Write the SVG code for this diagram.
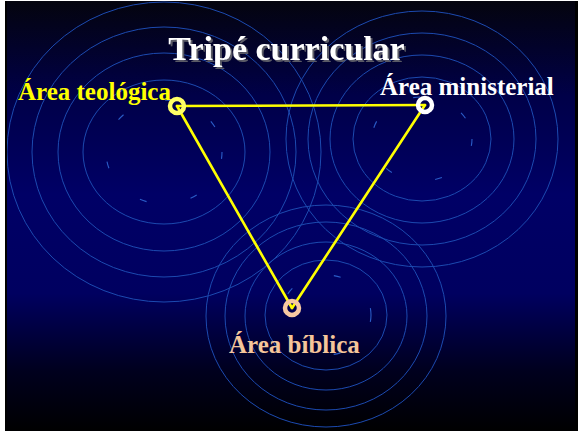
<svg xmlns="http://www.w3.org/2000/svg" width="578" height="431" viewBox="0 0 578 431">
  <defs>
    <linearGradient id="bg" x1="0" y1="0" x2="0" y2="1">
      <stop offset="0" stop-color="#04040e"/>
      <stop offset="0.22" stop-color="#000048"/>
      <stop offset="0.45" stop-color="#000066"/>
      <stop offset="0.68" stop-color="#000060"/>
      <stop offset="0.86" stop-color="#00001e"/>
      <stop offset="1" stop-color="#000000"/>
    </linearGradient>
    <clipPath id="clip"><rect x="7" y="1" width="568" height="430"/></clipPath>
    <filter id="shadow" x="-10%" y="-30%" width="120%" height="160%">
      <feFlood flood-color="#5a5a66"/>
      <feComposite in2="SourceAlpha" operator="in"/>
      <feOffset dx="2" dy="2" result="sh"/>
      <feMerge><feMergeNode in="sh"/><feMergeNode in="SourceGraphic"/></feMerge>
    </filter>
    <style>
      .ring { fill: none; stroke: #1c4ab0; stroke-width: 1; }
      .dash { fill: none; stroke: #2a5cc8; stroke-width: 1.1; stroke-dasharray: 7 45; }
      .edge { stroke: #ffff00; stroke-width: 2.6; fill: none; stroke-linecap: round; }
      .lbl { font-family: "Liberation Serif", "Times New Roman", serif; font-weight: bold; font-size: 25px; }
      .dot { stroke-width: 4.5; fill: none; }
    </style>
  </defs>

  <rect x="0" y="0" width="578" height="431" fill="#ffffff"/>
  <rect x="5" y="1" width="573" height="430" fill="#000000"/>
  <rect x="7" y="1" width="568" height="430" fill="url(#bg)"/>

  <g id="ripples" clip-path="url(#clip)">
    <ellipse class="dash" cx="164" cy="152" rx="58" ry="52"/>
    <ellipse class="ring" cx="164" cy="152" rx="81" ry="72"/>
    <ellipse class="ring" cx="164" cy="152" rx="106" ry="99"/>
    <ellipse class="ring" cx="164" cy="152" rx="132" ry="125"/>
    <ellipse class="ring" cx="164" cy="152" rx="157" ry="150"/>

    <ellipse class="dash" cx="422" cy="139" rx="50" ry="42"/>
    <ellipse class="ring" cx="422" cy="139" rx="69" ry="62"/>
    <ellipse class="ring" cx="422" cy="139" rx="92" ry="84"/>
    <ellipse class="ring" cx="422" cy="139" rx="114" ry="106"/>
    <ellipse class="ring" cx="422" cy="139" rx="136" ry="128"/>

    <ellipse class="dash" cx="326" cy="315" rx="45" ry="40"/>
    <ellipse class="ring" cx="326" cy="315" rx="61" ry="55"/>
    <ellipse class="ring" cx="326" cy="316" rx="81" ry="74"/>
    <ellipse class="ring" cx="326" cy="316" rx="101" ry="94"/>
    <ellipse class="ring" cx="326" cy="316" rx="120" ry="111"/>
  </g>

  <g id="title">
    <text x="286.5" y="60" text-anchor="middle" font-family="Liberation Serif, Times New Roman, serif" font-weight="bold" font-size="34" fill="#ffffff" filter="url(#shadow)">Tripé curricular</text>
  </g>

  <g id="connectors">
    <line class="edge" x1="177" y1="106" x2="425" y2="105"/>
    <line class="edge" x1="425" y1="105" x2="292" y2="308"/>
    <line class="edge" x1="292" y1="308" x2="177" y2="106"/>
  </g>

  <g id="node-teologica">
    <circle class="dot" cx="177" cy="106" r="7" stroke="#ffff66"/>
    <text class="lbl" x="18" y="100" fill="#ffff00">Área teológica</text>
  </g>

  <g id="node-ministerial">
    <circle class="dot" cx="425" cy="105" r="7" stroke="#ffffff"/>
    <text class="lbl" x="380" y="95" fill="#ffffff">Área ministerial</text>
  </g>

  <g id="node-biblica">
    <circle class="dot" cx="292" cy="308" r="7" stroke="#f7c9a2"/>
    <text class="lbl" x="229" y="353" fill="#f5c59a">Área bíblica</text>
  </g>
</svg>
